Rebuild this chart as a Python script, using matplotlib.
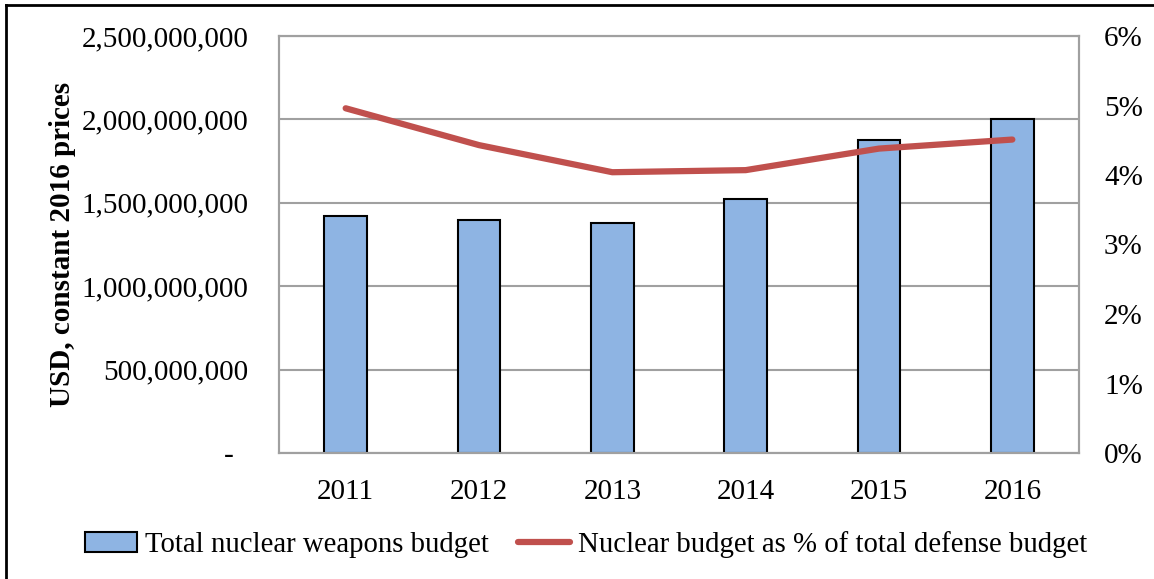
import matplotlib.pyplot as plt
import matplotlib.lines as mlines
from matplotlib.ticker import FuncFormatter, MultipleLocator

plt.rcParams['font.family'] = ['Liberation Serif', 'DejaVu Serif']

years = ['2011', '2012', '2013', '2014', '2015', '2016']
budget = [1.423e9, 1.397e9, 1.377e9, 1.523e9, 1.876e9, 2.0e9]
share = [4.96, 4.43, 4.04, 4.07, 4.38, 4.51]

bar_col = '#8EB4E3'
line_col = '#C0504D'
grid_col = '#A0A0A0'
fs = 21

fig = plt.figure(figsize=(11.54, 5.79), dpi=100)
ax = fig.add_axes([279/1154, 1-453/579, 800/1154, 417/579])
x = range(len(years))
ax.bar(x, budget, width=0.32, color=bar_col, edgecolor='black', linewidth=1.5, zorder=3,
       label='Total nuclear weapons budget')
ax.set_xlim(-0.5, len(years)-0.5)
ax.set_ylim(0, 2.5e9)
ax.yaxis.set_major_locator(MultipleLocator(5e8))
ax.yaxis.set_major_formatter(FuncFormatter(lambda v, p: '-  ' if v == 0 else f'{v:,.0f}'))
ax.set_xticks(list(x))
ax.set_xticklabels(years)
ax.grid(axis='y', color=grid_col, linewidth=1.5, zorder=0)
ax.tick_params(axis='y', length=0, pad=22, labelsize=fs)
ax.tick_params(axis='x', length=0, pad=19, labelsize=fs)
for s in ax.spines.values():
    s.set_color(grid_col)
    s.set_linewidth(1.5)
ax.set_ylabel('USD, constant 2016 prices', fontsize=fs, fontweight='bold', labelpad=4)

ax2 = ax.twinx()
ax2.plot(x, share, color=line_col, linewidth=4.5, solid_capstyle='round', zorder=4)
ax2.set_ylim(0, 6)
ax2.yaxis.set_major_locator(MultipleLocator(1))
ax2.yaxis.set_major_formatter(FuncFormatter(lambda v, p: f'{v:.0f}%'))
ax2.tick_params(axis='y', length=0, pad=18, labelsize=fs)
for s in ax2.spines.values():
    s.set_color(grid_col)
    s.set_linewidth(1.5)

h1, l1 = ax.get_legend_handles_labels()
h2 = mlines.Line2D([], [], color=line_col, linewidth=4.5, solid_capstyle='round')
fig.legend(h1 + [h2], l1 + ['Nuclear budget as % of total defense budget'],
           loc='center', bbox_to_anchor=(0.508, 1-545/579), ncol=2, frameon=False,
           fontsize=20.7, handlelength=1.8, handletextpad=0.3, columnspacing=1.0)

# page border lines
fig.add_artist(mlines.Line2D([6/1154, 6/1154], [0, 1-5/579], color='black', linewidth=2,
                             transform=fig.transFigure))
fig.add_artist(mlines.Line2D([6/1154, 1], [1-5/579, 1-5/579], color='black', linewidth=2,
                             transform=fig.transFigure))

fig.savefig('out.png', dpi=100)
